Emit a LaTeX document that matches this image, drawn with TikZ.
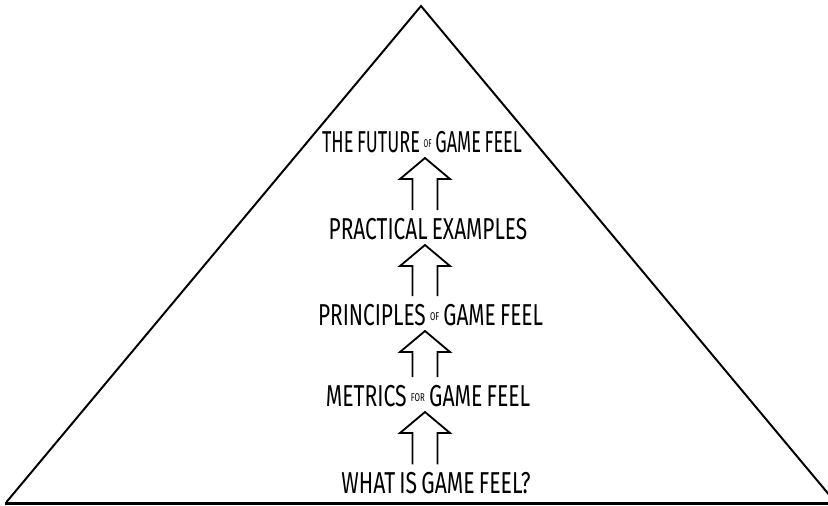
\documentclass[tikz,border=0pt]{standalone}
\usepackage{fontspec}
\setmainfont{Fira Sans}
\usetikzlibrary{calc}

% font of the levels, with tight word spaces
\newcommand{\levelfont}{\fontsize{21.5}{21.5}\selectfont\setlength{\spaceskip}{0.2em}}
% small raised words between the caps
\newcommand{\smallword}[1]{\raisebox{3.5pt}{\fontsize{8}{8}\selectfont #1}}
% hollow arrow, open at the bottom, from node #1 up to node #2
\newcommand{\openarrow}[2]{%
	\draw[arrowline] ($(axis |- #1.north)+(-12.5,-8)$) -- ($(axis |- #2.south)+(-12.5,26)$)
		-- ($(axis |- #2.south)+(-25,26)$) -- ($(axis |- #2.south)+(0,5)$)
		-- ($(axis |- #2.south)+(25,26)$) -- ($(axis |- #2.south)+(12.5,26)$)
		-- ($(axis |- #1.north)+(12.5,-8)$);}

\begin{document}
\begin{tikzpicture}[x=0.025cm, y=-0.025cm,
	level/.style={anchor=south, inner sep=0pt, text depth=0pt, font=\levelfont},
	arrowline/.style={line width=1.3pt, line join=miter},
	side/.style={line width=1.4pt},
	base/.style={line width=2.2pt}]
	\useasboundingbox (0,0) rectangle (828,506);
	\clip (0,0) rectangle (828,506);

	% Draw pyramid
	\draw[side] (6.5,502) -- (421,6) -- (836,503);
	\draw[base] (5,503.5) -- (830,503.5);

	% Levels, bottom to top
	\coordinate (axis) at (425,0);
	\node[level] (whatis) at (436,494) {\scalebox{0.7}[1]{WHAT IS GAME FEEL?}};
	\node[level] (metrics) at (428,407) {\scalebox{0.7}[1]{METRICS \smallword{FOR} GAME FEEL}};
	\node[level] (principles) at (430.5,326) {\scalebox{0.69}[1]{PRINCIPLES \smallword{OF} GAME FEEL}};
	\node[level] (practical) at (428,240) {\scalebox{0.69}[1]{PRACTICAL EXAMPLES}};
	\node[level] (future) at (422,153) {\scalebox{0.6}[1]{THE FUTURE \smallword{OF} GAME FEEL}};

	% Arrows between levels
	\openarrow{whatis}{metrics}
	\openarrow{metrics}{principles}
	\openarrow{principles}{practical}
	\openarrow{practical}{future}

\end{tikzpicture}
\end{document}
